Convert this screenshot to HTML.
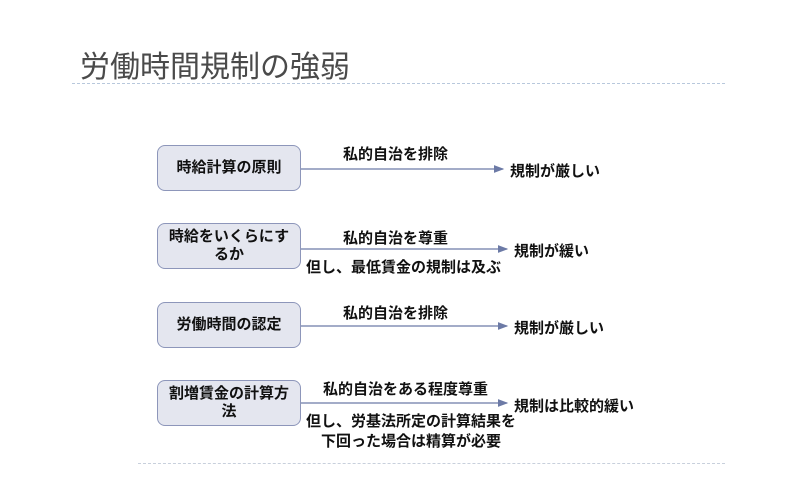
<!DOCTYPE html>
<html><head><meta charset="utf-8"><style>
body{margin:0;width:800px;height:500px;background:#fff;position:relative;overflow:hidden;font-family:"Liberation Sans","Noto Sans CJK JP",sans-serif;color:#111}
.t{position:absolute;white-space:nowrap}
.box{position:absolute;left:157px;width:144px;height:46px;border:1.5px solid #8d96ba;border-radius:8px;background:#e4e6ef;display:flex;align-items:center;justify-content:center;text-align:center;font-size:15px;line-height:18px;font-weight:bold;box-sizing:border-box}
.l{font-size:15px;font-weight:bold}
</style></head><body>
<div class="t" style="left:80px;top:42px;font-size:30px;color:#4a4a4a">労働時間規制の強弱</div>
<div style="position:absolute;left:72px;top:83px;width:653px;border-top:1px dashed #b8c8dc"></div>
<div style="position:absolute;left:138px;top:463px;width:587px;border-top:1px dashed #c8d0dc"></div>
<svg style="position:absolute;left:0;top:0" width="800" height="500">
<defs><marker id="a" markerWidth="8" markerHeight="6" refX="7" refY="3" orient="auto"><path d="M0,0L8,3L0,6z" fill="#6c7aa6"/></marker></defs>
<g stroke="#6c7aa6" stroke-width="1.3" marker-end="url(#a)">
<line x1="301" y1="169" x2="503" y2="169"/>
<line x1="301" y1="249" x2="507" y2="249"/>
<line x1="301" y1="326" x2="507" y2="326"/>
<line x1="301" y1="403" x2="507" y2="403"/>
</g></svg>
<div class="box" style="top:145px">時給計算の原則</div>
<div class="box" style="top:223px;padding:0 6px">時給をいくらにするか</div>
<div class="box" style="top:302px">労働時間の認定</div>
<div class="box" style="top:380px;padding:0 6px">割増賃金の計算方法</div>
<div class="t l" style="left:343px;top:143px">私的自治を排除</div>
<div class="t l" style="left:510px;top:160px">規制が厳しい</div>
<div class="t l" style="left:343px;top:227px">私的自治を尊重</div>
<div class="t l" style="left:514px;top:240px">規制が緩い</div>
<div class="t l" style="left:306px;top:256px">但し、最低賃金の規制は及ぶ</div>
<div class="t l" style="left:323px;top:378px">私的自治をある程度尊重</div>
<div class="t l" style="left:343px;top:302px">私的自治を排除</div>
<div class="t l" style="left:514px;top:317px">規制が厳しい</div>
<div class="t l" style="left:514px;top:395px">規制は比較的緩い</div>
<div class="t l" style="left:306px;top:412px;text-align:center;line-height:20px">但し、労基法所定の計算結果を<br>下回った場合は精算が必要</div>
</body></html>
